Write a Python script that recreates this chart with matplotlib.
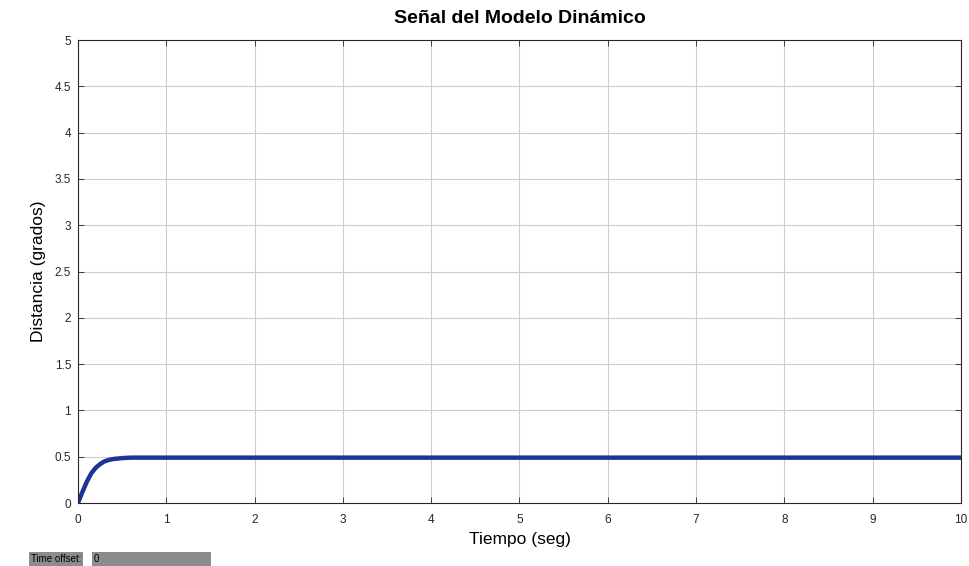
import matplotlib
matplotlib.use("Agg")
import matplotlib.pyplot as plt

plt.rcParams['font.family'] = ['Liberation Sans', 'DejaVu Sans']

# datos
tiempo = [0, 0.05, 0.1, 0.15, 0.2, 0.25, 0.3, 0.35, 0.4, 0.5, 0.6, 10]
distancia = [0, 0.12, 0.23, 0.32, 0.38, 0.42, 0.45, 0.465, 0.475, 0.485, 0.49, 0.49]

xticks = [0, 1, 2, 3, 4, 5, 6, 7, 8, 9, 10]
yticks = [0, 0.5, 1, 1.5, 2, 2.5, 3, 3.5, 4, 4.5, 5]
ytick_labels = ['0', '0.5', '1', '1.5', '2', '2.5', '3', '3.5', '4', '4.5', '5']

fig = plt.figure(figsize=(9.69, 5.66), dpi=100)
ax = fig.add_axes([0.0805, 0.1113, 0.9112, 0.818])

ax.plot(tiempo, distancia, color='#1c3595', linewidth=3.2, solid_capstyle='butt')

ax.set_xlim(0, 10)
ax.set_ylim(0, 5)
ax.set_xticks(xticks)
ax.set_yticks(yticks)
ax.set_yticklabels(ytick_labels)
ax.tick_params(direction='in', length=4, width=0.6, labelsize=8.5, top=True, right=True, colors='#262626')
ax.tick_params(axis='x', pad=8)
ax.tick_params(axis='y', pad=5)
ax.grid(True, color='#cdcdcd', linewidth=0.8)
for s in ax.spines.values():
    s.set_color('#262626')
    s.set_linewidth(0.8)

ax.set_xlabel('Tiempo (seg)', fontsize=12.5, labelpad=4)
ax.set_ylabel('Distancia (grados)', fontsize=12.5, labelpad=6)
ax.set_title('Señal del Modelo Dinámico', fontsize=14, fontweight='bold', pad=12)

fig.text(0.032, 0.003, 'Time offset:', fontsize=7, va='bottom',
         bbox=dict(facecolor='#8c8c8c', edgecolor='none', pad=1.5))
fig.text(0.097, 0.003, '0' + ' ' * 40, fontsize=7, va='bottom',
         bbox=dict(facecolor='#8c8c8c', edgecolor='none', pad=1.5))

fig.savefig('out.png', dpi=100)
